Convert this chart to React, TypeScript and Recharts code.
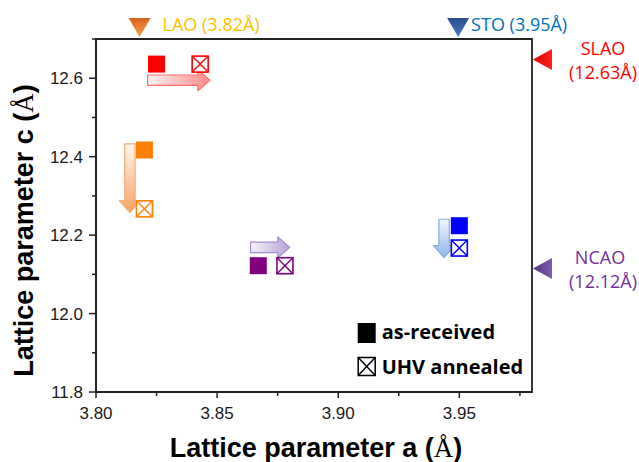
import React from 'react';
import {
  ScatterChart,
  Scatter,
  XAxis,
  YAxis,
  ReferenceArea,
  ReferenceDot,
  ReferenceLine,
  Legend,
  Label,
} from 'recharts';

// ---- data ----
const substrates = ['SLAO', 'LAO', 'NCAO', 'STO'];
const asReceivedA = [3.825, 3.82, 3.867, 3.95];
const asReceivedC = [12.636, 12.417, 12.122, 12.224];
const annealedA = [3.843, 3.82, 3.878, 3.95];
const annealedC = [12.636, 12.267, 12.122, 12.167];

// substrate reference markers
const inPlaneSubs = ['LAO', 'STO'];
const inPlaneLabel = ['3.82', '3.95'];
const inPlaneMarkerA = [3.818, 3.9495];
const outPlaneSubs = ['SLAO', 'NCAO'];
const outPlaneLabel = ['12.63', '12.12'];
const outPlaneMarkerC = [12.648, 12.115];

// shift arrows
const arrowStartA = [3.8213, 3.814, 3.8638, 3.9437];
const arrowStartC = [12.595, 12.4325, 12.1688, 12.2405];
const arrowEndA = [3.847, 3.814, 3.88, 3.9437];
const arrowEndC = [12.595, 12.2576, 12.1688, 12.1424];

const xTicks = [3.8, 3.825, 3.85, 3.875, 3.9, 3.925, 3.95, 3.975];
const xMajor = [3.8, 3.85, 3.9, 3.95];
const yTicks = [11.8, 11.9, 12.0, 12.1, 12.2, 12.3, 12.4, 12.5, 12.6, 12.7];
const yMajor = [11.8, 12.0, 12.2, 12.4, 12.6];

const asReceived = substrates.map((s, i) => ({ sub: s, a: asReceivedA[i], c: asReceivedC[i] }));
const annealed = substrates.map((s, i) => ({ sub: s, a: annealedA[i], c: annealedC[i] }));

// ---- styles ----
const markColor: Record<string, string> = {
  SLAO: '#FF0000',
  LAO: '#FF7F00',
  NCAO: '#800080',
  STO: '#0000FF',
};
const arrowStyle: Record<string, { from: string; to: string; stroke: string }> = {
  SLAO: { from: '#FFF2F2', to: '#FF8A8A', stroke: '#FF6E6E' },
  LAO: { from: '#FFF6EE', to: '#F8A465', stroke: '#F5AC78' },
  NCAO: { from: '#F6F2FB', to: '#B7A2D8', stroke: '#A48DCA' },
  STO: { from: '#F2F7FF', to: '#8DB5E8', stroke: '#88AEE0' },
};
const triStyle: Record<string, { from: string; to: string; text: string }> = {
  LAO: { from: '#D9621A', to: '#F4A050', text: '#FFC000' },
  STO: { from: '#2A4F8E', to: '#4A78C6', text: '#0070C0' },
  SLAO: { from: '#E00000', to: '#FF2020', text: '#FF0000' },
  NCAO: { from: '#553684', to: '#7C5DAE', text: '#7030A0' },
};

const tickFont = '"Liberation Sans", Arial, sans-serif';
const annFont = '"Open Sans", "Noto Sans", sans-serif';

const isIn = (arr: number[], v: number) => arr.some((m) => Math.abs(m - v) < 1e-6);

const XTick = (props: any) => {
  const { x, y, payload } = props;
  const major = isIn(xMajor, payload.value);
  return (
    <g>
      <line x1={x} y1={y} x2={x} y2={y + (major ? 6 : 4)} stroke="#222" strokeWidth={1.5} />
      {major && (
        <text x={x} y={y + 27} textAnchor="middle" fontFamily={tickFont} fontSize={17} fill="#1a1a1a">
          {Number(payload.value).toFixed(2)}
        </text>
      )}
    </g>
  );
};

const YTick = (props: any) => {
  const { x, y, payload } = props;
  const major = isIn(yMajor, payload.value);
  return (
    <g>
      <line x1={x} y1={y} x2={x - (major ? 7 : 4)} y2={y} stroke="#222" strokeWidth={1.5} />
      {major && (
        <text x={x - 13} y={y + 6} textAnchor="end" fontFamily={tickFont} fontSize={17} fill="#1a1a1a">
          {Number(payload.value).toFixed(1)}
        </text>
      )}
    </g>
  );
};

const FilledSquare = (props: any) => {
  const { cx, cy, payload } = props;
  return <rect x={cx - 8.5} y={cy - 8.5} width={17} height={17} fill={markColor[payload.sub]} />;
};

const CrossedSquare = (props: any) => {
  const { cx, cy, payload } = props;
  const c = markColor[payload.sub];
  const h = 8;
  return (
    <g>
      <rect x={cx - h} y={cy - h} width={2 * h} height={2 * h} fill="#fff" stroke={c} strokeWidth={1.6} />
      <line x1={cx - h} y1={cy - h} x2={cx + h} y2={cy + h} stroke={c} strokeWidth={1.4} />
      <line x1={cx - h} y1={cy + h} x2={cx + h} y2={cy - h} stroke={c} strokeWidth={1.4} />
    </g>
  );
};

const makeArrow = (sub: string) => (props: any) => {
  const { x1, y1, x2, y2 } = props;
  const dx = x2 - x1;
  const dy = y2 - y1;
  const L = Math.hypot(dx, dy) || 1;
  const ux = dx / L;
  const uy = dy / L;
  const nx = -uy;
  const ny = ux;
  const bw = 5.2;
  const hw = 10.5;
  const hl = 12;
  const bx = x2 - ux * hl;
  const by = y2 - uy * hl;
  const pts = [
    [x1 + nx * bw, y1 + ny * bw],
    [bx + nx * bw, by + ny * bw],
    [bx + nx * hw, by + ny * hw],
    [x2, y2],
    [bx - nx * hw, by - ny * hw],
    [bx - nx * bw, by - ny * bw],
    [x1 - nx * bw, y1 - ny * bw],
  ]
    .map((p) => `${p[0]},${p[1]}`)
    .join(' ');
  const st = arrowStyle[sub];
  const horizontal = Math.abs(dx) > Math.abs(dy);
  const id = `arrow-grad-${sub}`;
  return (
    <g>
      <defs>
        <linearGradient id={id} x1="0" y1="0" x2={horizontal ? 1 : 0} y2={horizontal ? 0 : 1}>
          <stop offset="0%" stopColor={st.from} />
          <stop offset="100%" stopColor={st.to} />
        </linearGradient>
      </defs>
      <polygon points={pts} fill={`url(#${id})`} stroke={st.stroke} strokeWidth={1.2} strokeLinejoin="round" />
    </g>
  );
};

const makeTopMarker = (sub: string, label: string) => (props: any) => {
  const { cx, cy } = props;
  const st = triStyle[sub];
  const id = `tri-grad-${sub}`;
  return (
    <g>
      <defs>
        <linearGradient id={id} x1="0" y1="0" x2="0" y2="1">
          <stop offset="0%" stopColor={st.from} />
          <stop offset="100%" stopColor={st.to} />
        </linearGradient>
      </defs>
      <polygon
        points={`${cx - 11},${cy - 21} ${cx + 11},${cy - 21} ${cx},${cy - 2}`}
        fill={`url(#${id})`}
      />
      <text x={cx + (sub === 'LAO' ? 23 : 13)} y={cy - 8} fontFamily={annFont} fontSize={18} fill={st.text}>
        {`${sub} (${label}Å)`}
      </text>
    </g>
  );
};

const makeRightMarker = (sub: string, label: string) => (props: any) => {
  const { cx, cy } = props;
  const st = triStyle[sub];
  const id = `tri-grad-${sub}`;
  const tx = cx + (sub === 'SLAO' ? 71 : 68);
  return (
    <g>
      <defs>
        <linearGradient id={id} x1="0" y1="0" x2="1" y2="0">
          <stop offset="0%" stopColor={st.from} />
          <stop offset="100%" stopColor={st.to} />
        </linearGradient>
      </defs>
      <polygon
        points={`${cx + 1},${cy} ${cx + 20},${cy - 10.5} ${cx + 20},${cy + 10.5}`}
        fill={`url(#${id})`}
      />
      <text x={tx} y={cy - 4} textAnchor="middle" fontFamily={annFont} fontSize={18} fill={st.text}>
        {sub}
      </text>
      <text x={cx + 71} y={cy + 20} textAnchor="middle" fontFamily={annFont} fontSize={18} fill={st.text}>
        {`(${label}Å)`}
      </text>
    </g>
  );
};

const XTitle = (props: any) => {
  const { viewBox } = props;
  const x = viewBox.x + viewBox.width / 2 + 2;
  const y = viewBox.y + 65;
  return (
    <text x={x} y={y} textAnchor="middle" fontFamily={tickFont} fontWeight={700} fontSize={27} fill="#000">
      Lattice parameter a (<tspan fontFamily='"Liberation Serif", "Times New Roman", serif' fontWeight={400}>Å</tspan>)
    </text>
  );
};

const YTitle = (props: any) => {
  const { viewBox } = props;
  const x = viewBox.x - 3;
  const y = viewBox.y + viewBox.height / 2 + 15;
  return (
    <text
      x={x}
      y={y}
      transform={`rotate(-90 ${x} ${y})`}
      textAnchor="middle"
      fontFamily={tickFont}
      fontWeight={700}
      fontSize={27}
      fill="#000"
    >
      Lattice parameter c (<tspan fontFamily='"Liberation Serif", "Times New Roman", serif' fontWeight={400}>Å</tspan>)
    </text>
  );
};

const LegendContent = () => (
  <svg width={200} height={70} style={{ display: 'block', overflow: 'visible' }}>
    <rect x={7.7} y={8} width={18} height={20} fill="#000" />
    <text x={31.7} y={24} fontFamily={annFont} fontWeight={700} fontSize={20} fill="#000">
      as-received
    </text>
    <rect x={8.2} y={42.5} width={17} height={18} fill="#fff" stroke="#000" strokeWidth={1.5} />
    <line x1={8.2} y1={42.5} x2={25.2} y2={60.5} stroke="#000" strokeWidth={1.4} />
    <line x1={8.2} y1={60.5} x2={25.2} y2={42.5} stroke="#000" strokeWidth={1.4} />
    <text x={31.7} y={59} fontFamily={annFont} fontWeight={700} fontSize={20} fill="#000">
      UHV annealed
    </text>
  </svg>
);

export default function App() {
  return (
    <div style={{ position: 'absolute', left: 0, top: 0, width: 639, height: 462, background: '#fff' }}>
      <ScatterChart width={639} height={462} margin={{ top: 39, right: 107, bottom: 40, left: 36 }}>
        <XAxis
          type="number"
          dataKey="a"
          domain={[3.8, 3.98]}
          ticks={xTicks}
          interval={0}
          allowDataOverflow
          height={30}
          tickSize={0}
          tickMargin={0}
          tickLine={false}
          axisLine={{ stroke: '#222', strokeWidth: 1.8 }}
          tick={<XTick />}
        >
          <Label content={<XTitle />} />
        </XAxis>
        <YAxis
          type="number"
          dataKey="c"
          domain={[11.8, 12.7]}
          ticks={yTicks}
          interval={0}
          allowDataOverflow
          width={60}
          tickSize={0}
          tickMargin={0}
          tickLine={false}
          axisLine={{ stroke: '#222', strokeWidth: 1.8 }}
          tick={<YTick />}
        >
          <Label content={<YTitle />} />
        </YAxis>
        <ReferenceArea
          x1={3.8}
          x2={3.98}
          y1={11.8}
          y2={12.7}
          fill="none"
          fillOpacity={0}
          stroke="#222"
          strokeWidth={1.8}
          ifOverflow="visible"
        />
        {substrates.map((s, i) => (
          <ReferenceLine
            key={`arrow-${s}`}
            segment={[
              { x: arrowStartA[i], y: arrowStartC[i] },
              { x: arrowEndA[i], y: arrowEndC[i] },
            ]}
            ifOverflow="visible"
            shape={makeArrow(s)}
          />
        ))}
        <Scatter name="as-received" data={asReceived} shape={<FilledSquare />} isAnimationActive={false} />
        <Scatter name="UHV annealed" data={annealed} shape={<CrossedSquare />} isAnimationActive={false} />
        {inPlaneSubs.map((s, i) => (
          <ReferenceDot
            key={`top-${s}`}
            x={inPlaneMarkerA[i]}
            y={12.7}
            r={1}
            ifOverflow="visible"
            shape={makeTopMarker(s, inPlaneLabel[i])}
          />
        ))}
        {outPlaneSubs.map((s, i) => (
          <ReferenceDot
            key={`right-${s}`}
            x={3.98}
            y={outPlaneMarkerC[i]}
            r={1}
            ifOverflow="visible"
            shape={makeRightMarker(s, outPlaneLabel[i])}
          />
        ))}
        <Legend
          layout="horizontal"
          verticalAlign="middle"
          align="center"
          wrapperStyle={{ left: 350, top: 315, width: 200, height: 70 }}
          content={<LegendContent />}
        />
      </ScatterChart>
    </div>
  );
}
